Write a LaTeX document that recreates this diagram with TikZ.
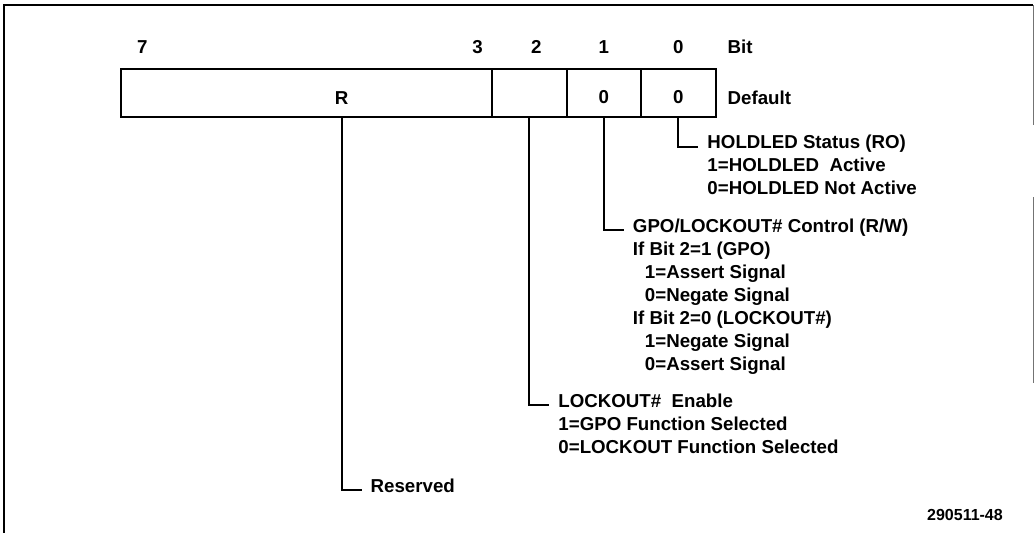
\documentclass[tikz,border=0pt]{standalone}
\usepackage{fontspec}
\setmainfont{Liberation Sans}
\usetikzlibrary{positioning}

\newcommand{\regfont}{\bfseries\fontsize{18.7pt}{23pt}\selectfont}
\newcommand{\lnstrut}{\rule[-5pt]{0pt}{18pt}}

\begin{document}
\begin{tikzpicture}[
  x=1pt, y=-1pt,
  cell/.style={rectangle, draw, line width=2pt, outer sep=0pt, inner sep=0pt,
               minimum width=74.5pt, minimum height=48pt,
               text height=21pt, text depth=0pt, font=\regfont},
  lbl/.style={inner sep=0pt, font=\regfont},
  desc/.style={inner xsep=9pt, inner ysep=0pt, align=left, font=\regfont},
  lead/.style={line width=2pt},
  frame/.style={line width=2pt},
]
  \useasboundingbox (0,0) rectangle (1034,533);

  % Outer frame (open at the bottom)
  \draw[frame] (4,533) -- (4,5) -- (1033,5);
  \draw[line width=0.8pt, black!55] (1033,5) -- (1033,125) (1033,197) -- (1033,383);

  % Register fields
  \node[cell, minimum width=371pt] (fldR) at (306.5,93) {};
  \node[cell, right=0pt of fldR] (fld2) {};
  \node[cell, right=0pt of fld2] (fld1) {0};
  \node[cell, right=0pt of fld1] (fld0) {0};
  \node[lbl, yshift=-4.8pt] (txtR) at ([xshift=35pt]fldR.center) {R};

  % Bit numbers
  \node[lbl, above right=15pt and 16pt of fldR.north west] (n7) {7};
  \node[lbl, above left=15pt and 9pt of fldR.north east] (n3) {3};
  \node[lbl, above=15pt of fld2, xshift=7pt] (n2) {2};
  \node[lbl, above=15pt of fld1] (n1) {1};
  \node[lbl, above=15pt of fld0] (n0) {0};
  \node[lbl, right=12pt of fld0, yshift=-4.8pt] (dflt) {Default};
  \node[lbl, anchor=west] (bitlbl) at (dflt.west |- n0) {Bit};

  % Field descriptions
  \node[desc, below right=18pt and 20pt of fld0.south] (holdD)
    {\lnstrut HOLDLED Status (RO)\\1=HOLDLED\ \ Active\\0=HOLDLED Not Active};
  \node[desc, below right=101.5pt and 20pt of fld1.south] (gpoD)
    {\lnstrut GPO/LOCKOUT\# Control (R/W)\\If Bit 2=1 (GPO)\\
     \hspace*{12pt}1=Assert Signal\\\hspace*{12pt}0=Negate Signal\\
     If Bit 2=0 (LOCKOUT\#)\\\hspace*{12pt}1=Negate Signal\\\hspace*{12pt}0=Assert Signal};
  \node[desc, below right=276.5pt and 20pt of fld2.south] (lockD)
    {\lnstrut LOCKOUT\#\ \ Enable\\1=GPO Function Selected\\0=LOCKOUT Function Selected};
  \coordinate (rfoot) at (txtR |- fldR.south);
  \node[desc, below right=361.5pt and 20pt of rfoot] (resD) {\lnstrut Reserved};

  % Leaders
  \draw[lead] (fld0.south) |- ([yshift=-11.5pt]holdD.north west);
  \draw[lead] (fld1.south) |- ([yshift=-11.5pt]gpoD.north west);
  \draw[lead] (fld2.south) |- ([yshift=-11.5pt]lockD.north west);
  \draw[lead] (rfoot) |- ([yshift=-11.5pt]resD.north west);

  % Figure number
  \node[lbl, font=\bfseries\fontsize{16pt}{19pt}\selectfont, anchor=east] (fignum) at (1003,515) {290511-48};
\end{tikzpicture}
\end{document}
